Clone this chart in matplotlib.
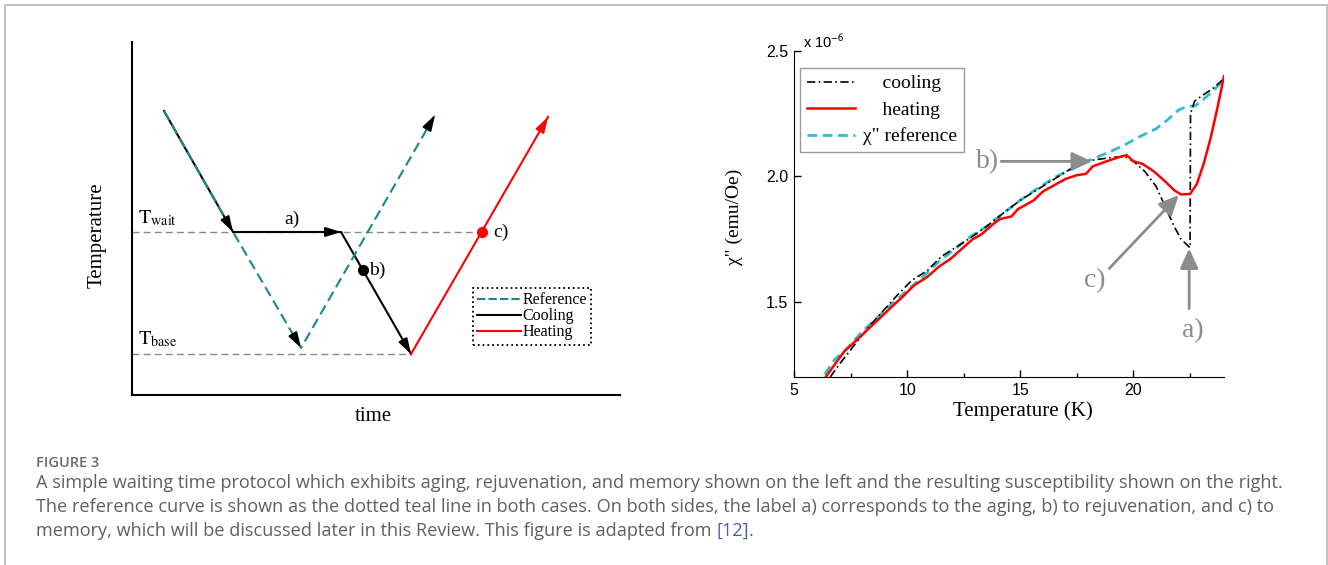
import matplotlib
matplotlib.use('Agg')
import matplotlib.pyplot as plt
from matplotlib.lines import Line2D
from matplotlib.patches import Rectangle
from matplotlib.ticker import MultipleLocator

plt.rcParams['mathtext.fontset'] = 'stix'
SERIF = 'Liberation Serif'
SANS = 'Liberation Sans'

# ---- left panel: protocol sketch (arbitrary time / temperature units)
ref_time = [32, 101, 169, 303]
ref_temp = [284, 163, 47, 280]
cool_time = [32, 101, 209, 279]
cool_temp = [284, 163, 163, 41]
heat_time = [279, 416]
heat_temp = [41, 278]
T_wait = 163
T_base = 41
b_point = (231, 125)
c_point = (350, 163)

# ---- right panel: chi'' vs temperature (x 1e-6 emu/Oe)
ref_T = [6.35, 6.8, 7.3, 8.0, 8.6, 9.3, 10.0, 10.7, 11.4, 12.1, 12.8, 13.5, 14.2,
         15.0, 15.8, 16.6, 17.4, 18.2, 19.0, 19.6, 20.3, 21.0, 21.5, 22.0, 22.4,
         22.7, 23.0, 23.5, 24.0]
ref_chi = [1.21, 1.27, 1.31, 1.38, 1.43, 1.49, 1.545, 1.60, 1.66, 1.71, 1.76, 1.80,
           1.85, 1.905, 1.955, 2.00, 2.035, 2.07, 2.10, 2.125, 2.16, 2.19, 2.225,
           2.265, 2.28, 2.28, 2.30, 2.34, 2.385]
cool_T = [6.6, 7.0, 7.6, 8.3, 9.0, 9.6, 10.2, 10.9, 11.5, 12.2, 12.8, 13.5, 14.2,
          15.0, 15.8, 16.6, 17.4, 18.2, 19.0, 19.6, 20.0, 20.5, 21.0, 21.4, 21.8,
          22.1, 22.5, 22.52, 22.7, 23.0, 23.5, 24.0]
cool_chi = [1.20, 1.25, 1.32, 1.40, 1.47, 1.53, 1.585, 1.625, 1.68, 1.72, 1.755,
            1.80, 1.85, 1.905, 1.95, 1.995, 2.04, 2.065, 2.075, 2.08, 2.06, 2.02,
            1.96, 1.88, 1.80, 1.75, 1.715, 2.25, 2.30, 2.32, 2.35, 2.39]
heat_T = [6.4, 6.8, 7.2, 7.8, 8.5, 9.2, 9.8, 10.3, 10.9, 11.4, 11.9, 12.4, 12.9,
          13.3, 13.8, 14.1, 14.6, 14.9, 15.3, 15.6, 16.0, 16.5, 17.0, 17.5, 17.9,
          18.2, 18.8, 19.3, 19.7, 20.0, 20.4, 20.9, 21.4, 21.8, 22.1, 22.5, 22.8,
          23.1, 23.4, 23.7, 24.0]
heat_chi = [1.20, 1.25, 1.30, 1.35, 1.41, 1.47, 1.52, 1.565, 1.60, 1.64, 1.67, 1.71,
            1.75, 1.77, 1.81, 1.83, 1.84, 1.87, 1.89, 1.905, 1.94, 1.965, 1.99,
            2.005, 2.01, 2.04, 2.06, 2.075, 2.085, 2.06, 2.05, 2.02, 1.98, 1.945,
            1.928, 1.93, 1.97, 2.05, 2.15, 2.27, 2.40]

caption_title = 'FIGURE 3'
caption_lines = [
    'A simple waiting time protocol which exhibits aging, rejuvenation, and memory shown on the left and the resulting susceptibility shown on the right.',
    'The reference curve is shown as the dotted teal line in both cases. On both sides, the label a) corresponds to the aging, b) to rejuvenation, and c) to',
    'memory, which will be discussed later in this Review. This figure is adapted from ',
]

teal_dark = '#17898a'
teal_light = '#2cc0c6'
gray_arrow = '#8c8c8c'

fig = plt.figure(figsize=(13.28, 5.65), dpi=100)

# ================= left panel
ax1 = fig.add_axes([0.0994, 0.3009, 0.3675, 0.6248])
ax1.set_xlim(0, 488)
ax1.set_ylim(0, 353)
for s in ['top', 'right']:
    ax1.spines[s].set_visible(False)
for s in ['left', 'bottom']:
    ax1.spines[s].set_linewidth(1.5)
ax1.set_xticks([])
ax1.set_yticks([])

ax1.plot([0, c_point[0]], [T_wait, T_wait], ls=(0, (5, 3)), color='#888888', lw=1)
ax1.plot([0, cool_time[-1]], [T_base, T_base], ls=(0, (5, 3)), color='#888888', lw=1)

ax1.plot(cool_time, cool_temp, color='black', lw=1.5)
ax1.plot(heat_time, heat_temp, color='red', lw=1.5)
ax1.plot(ref_time, ref_temp, color=teal_dark, lw=1.5, ls=(0, (5, 2.5)))


def head(ax, x, y, i, color):
    # arrowhead at point i, pointing along segment i-1 -> i
    x0, y0, x1, y1 = x[i - 1], y[i - 1], x[i], y[i]
    ax.annotate('', xy=(x1, y1), xytext=(x1 - 0.05 * (x1 - x0), y1 - 0.05 * (y1 - y0)),
                arrowprops=dict(arrowstyle='-|>,head_length=0.45,head_width=0.14',
                                color=color, lw=1.5, shrinkA=0, shrinkB=0,
                                mutation_scale=20))


head(ax1, ref_time, ref_temp, 1, 'black')
head(ax1, ref_time, ref_temp, 2, 'black')
head(ax1, ref_time, ref_temp, 3, 'black')
head(ax1, cool_time, cool_temp, 2, 'black')
head(ax1, cool_time, cool_temp, 3, 'black')
head(ax1, heat_time, heat_temp, 1, 'red')

ax1.plot(*b_point, 'o', color='black', ms=7)
ax1.plot(*c_point, 'o', color='red', ms=7)

ax1.text(6, T_wait + 4, r'$\mathrm{T_{wait}}$', fontsize=14.5, ha='left', va='bottom')
ax1.text(6, T_base + 5, r'$\mathrm{T_{base}}$', fontsize=14.5, ha='left', va='bottom')
ax1.text(160, T_wait + 4, 'a)', family=SERIF, fontsize=14, ha='center', va='bottom')
ax1.text(b_point[0] + 6, b_point[1], 'b)', family=SERIF, fontsize=14, ha='left', va='center')
ax1.text(c_point[0] + 11, c_point[1], 'c)', family=SERIF, fontsize=14, ha='left', va='center')

ax1.set_ylabel('Temperature', family=SERIF, fontsize=15)
ax1.yaxis.set_label_coords(-0.053, 0.453)
ax1.set_xlabel('time', family=SERIF, fontsize=15)
ax1.xaxis.set_label_coords(0.494, -0.034)

h1 = [Line2D([], [], color=teal_dark, lw=1.5, ls=(0, (4, 1.5))),
      Line2D([], [], color='black', lw=1.5),
      Line2D([], [], color='red', lw=1.5)]
leg1 = ax1.legend(h1, ['Reference', 'Cooling', 'Heating'], loc='upper left',
                  bbox_to_anchor=(0.698, 0.304), prop={'family': SERIF, 'size': 11.5},
                  handlelength=2.7, handletextpad=0.1, labelspacing=0.0,
                  borderpad=0.3, borderaxespad=0, fancybox=False, framealpha=1)
leg1.get_frame().set_edgecolor('black')
leg1.get_frame().set_linestyle(':')
leg1.get_frame().set_linewidth(1.3)

# ================= right panel
ax2 = fig.add_axes([0.5979, 0.3327, 0.3238, 0.577])
ax2.set_xlim(5, 24)
ax2.set_ylim(1.2, 2.5)
for s in ['top', 'right']:
    ax2.spines[s].set_visible(False)
ax2.set_xticks([5, 10, 15, 20])
ax2.xaxis.set_minor_locator(MultipleLocator(2.5))
ax2.set_yticks([1.5, 2.0, 2.5])
ax2.set_yticklabels(['1.5', '2.0', '2.5'])
ax2.tick_params(direction='in', length=5, width=1, labelsize=11.5, pad=4)
ax2.tick_params(axis='x', which='minor', direction='in', length=3, width=1)
for lab in ax2.get_xticklabels() + ax2.get_yticklabels():
    lab.set_family(SANS)

ax2.plot(ref_T, ref_chi, color=teal_light, lw=2, ls=(0, (3.5, 2)), label='χ" reference', zorder=2)
ax2.plot(cool_T, cool_chi, color='black', lw=1.2, ls=(0, (5, 2, 1, 2)), label='    cooling', zorder=3)
ax2.plot(heat_T, heat_chi, color='red', lw=1.8, label='    heating', zorder=4)

ax2.text(0.02, 1.0, r'x 10$^{\mathsf{-6}}$', transform=ax2.transAxes, family=SANS,
         fontsize=10.5, ha='left', va='bottom')

hs, ls_ = ax2.get_legend_handles_labels()
order = [1, 2, 0]
leg2 = ax2.legend([hs[i] for i in order], [ls_[i] for i in order], loc='upper left',
                  bbox_to_anchor=(0.014, 0.948), prop={'family': SERIF, 'size': 14},
                  handlelength=2.5, handletextpad=0.4, labelspacing=0.45,
                  borderpad=0.35, borderaxespad=0, fancybox=False, framealpha=1)
leg2.get_frame().set_edgecolor('#999999')
leg2.get_frame().set_linewidth(1)

arrow_kw = dict(arrowstyle='-|>,head_length=0.6,head_width=0.28', color=gray_arrow,
                lw=2, shrinkA=0, shrinkB=0, mutation_scale=20)
ax2.annotate('', xy=(18.16, 2.06), xytext=(14.15, 2.06), arrowprops=arrow_kw)
ax2.text(14.05, 2.06, 'b)', family=SERIF, fontsize=20, color=gray_arrow, ha='right', va='center')
ax2.annotate('', xy=(22.0, 1.925), xytext=(18.93, 1.633), arrowprops=arrow_kw)
ax2.text(18.3, 1.585, 'c)', family=SERIF, fontsize=20, color=gray_arrow, ha='center', va='center')
ax2.annotate('', xy=(22.46, 1.712), xytext=(22.46, 1.473), arrowprops=arrow_kw)
ax2.text(22.6, 1.385, 'a)', family=SERIF, fontsize=20, color=gray_arrow, ha='center', va='center')

ax2.set_xlabel('Temperature (K)', family=SERIF, fontsize=15)
ax2.xaxis.set_label_coords(0.533, -0.075)
ax2.set_ylabel('χ" (emu/Oe)', family=SERIF, fontsize=14)
ax2.yaxis.set_label_coords(-0.119, 0.49)

# ================= caption and frame
W, H = 1328, 565
fig.add_artist(Rectangle((4.5 / W, -0.1), (1326.5 - 4.5) / W, 1.1 - 4.5 / H,
                         transform=fig.transFigure, fill=False, edgecolor='#b5b5b5',
                         lw=1.2))
cap_color = '#5f5f5f'
cap_x = 36 / W
fig.text(cap_x, 1 - 463 / H, caption_title, family='Open Sans', fontsize=10.5,
         weight='semibold', color='#6a6a6a', va='center', ha='left')
ys = [483, 507, 531]
cap_size = 13.1
last = None
for line, y in zip(caption_lines, ys):
    last = fig.text(cap_x, 1 - y / H, line, family='Open Sans', fontsize=cap_size,
                    color=cap_color, va='center', ha='left')

fig.canvas.draw()
bb = last.get_window_extent()
ref = fig.text(bb.x1 / W, 1 - ys[-1] / H, '[12]', family='Open Sans', fontsize=cap_size,
               color='#4a5ea8', va='center', ha='left')
fig.canvas.draw()
bb2 = ref.get_window_extent()
fig.text(bb2.x1 / W, 1 - ys[-1] / H, '.', family='Open Sans', fontsize=cap_size,
         color=cap_color, va='center', ha='left')

fig.savefig('out.png', dpi=100)
